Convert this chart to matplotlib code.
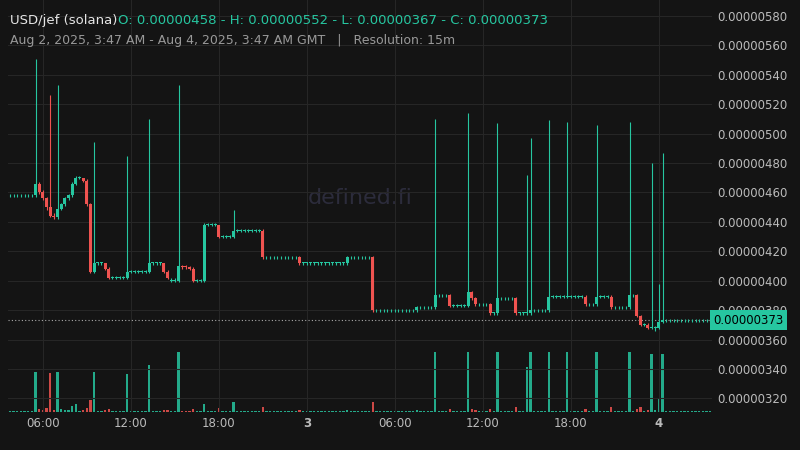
import matplotlib
matplotlib.use("Agg")
import matplotlib.pyplot as plt
from matplotlib.ticker import FuncFormatter

# runs of candles: (count, open, high, low, close, volume)  prices in 1e-8 USD
runs = [
 (7,458,459,457,458,1),
 (1,458,551,457,466,40),(1,466,467,459,460,3),(1,460,462,455,456,2),(1,456,457,448,450,4),
 (1,450,526,443,444,39),(1,444,446,442,443,2),(1,443,533,442,449,40),(1,449,453,448,452,3),
 (1,452,457,451,456,2),(1,456,459,455,458,2),(1,458,467,457,466,6),(1,466,471,465,470,8),
 (1,470,471,469,470,1),(1,470,470,467,468,2),(1,468,469,451,452,4),(1,452,453,405,406,12),
 (1,406,494,405,412,40),(2,412,413,411,412,1),(1,412,412,407,408,2),(1,408,409,401,402,3),
 (4,402,403,401,402,1),(1,402,485,401,406,38),(5,406,407,405,406,1),(1,406,510,405,412,47),
 (3,412,413,411,412,1),(1,412,412,405,406,2),(1,406,407,401,402,2),(2,400,402,399,400,1),
 (1,400,533,399,410,60),(2,410,411,408,409,1),(1,409,410,407,408,1),(1,408,409,399,400,3),
 (2,400,401,399,400,1),(1,400,439,399,438,8),(3,438,439,437,438,1),(1,438,438,429,430,4),
 (3,430,431,429,430,1),(1,430,448,429,434,10),(7,434,435,433,434,1),(1,434,435,415,416,5),
 (9,416,417,415,416,1),(1,416,417,411,412,2),(12,412,413,411,412,1),(1,412,417,411,416,2),
 (6,416,417,415,416,1),(1,416,417,379,380,10),(11,380,381,379,380,1),(1,380,383,379,382,2),
 (4,382,383,381,382,1),(1,382,510,381,390,60),(3,390,391,389,390,1),(1,390,391,382,383,3),
 (4,383,384,382,383,1),(1,383,514,382,392,60),(1,392,393,387,388,3),(1,388,389,383,384,2),
 (3,384,385,383,384,1),(1,384,385,377,378,3),(1,378,379,377,378,1),(1,378,507,377,388,60),
 (4,388,389,387,388,1),(1,388,389,377,378,5),(2,378,379,377,378,1),(1,378,472,377,378,45),
 (1,378,497,377,380,60),(4,380,381,379,380,1),(1,380,509,379,389,60),(4,389,390,388,389,1),
 (1,389,508,388,389,60),(4,389,390,388,389,1),(1,389,390,383,384,3),(2,384,385,383,384,1),
 (1,384,506,383,389,60),(3,389,390,388,389,1),(1,389,390,381,382,5),(4,382,383,381,382,1),
 (1,382,508,381,390,60),(1,390,391,389,390,1),(1,390,391,375,376,3),(1,376,377,369,370,5),
 (1,370,371,369,370,1),(1,370,371,367,368,2),(1,368,480,367,368,58),(1,368,369,366,368,2),
 (1,368,398,367,372,13),(1,372,487,371,373,58),(13,373,374,372,373,1),
]
tick_pos = [9, 33, 57, 81, 105, 129, 153, 177]
tick_labels = ["06:00", "12:00", "18:00", "3", "06:00", "12:00", "18:00", "4"]

o, h, l, c, v = [], [], [], [], []
for n, a, b, d, e, vol in runs:
    for _ in range(n):
        o.append(a); h.append(b); l.append(d); c.append(e); v.append(vol)

GREEN, RED, BG = "#26c6a0", "#ef5350", "#141414"
fig = plt.figure(figsize=(8, 4.5), dpi=100, facecolor=BG)
ax = fig.add_axes([0.01, 0.0844, 0.88, 0.9156], facecolor=BG)
axv = ax.twinx()
axv.set_zorder(0); ax.set_zorder(1); ax.patch.set_visible(False)
axv.set_facecolor(BG)
for i in range(len(o)):
    col = GREEN if c[i] >= o[i] else RED
    ax.vlines(i, l[i]*1e-8, h[i]*1e-8, color=col, lw=0.8, zorder=3)
    lo, hi = min(o[i], c[i]), max(o[i], c[i])
    ax.bar(i, max(hi-lo, 0.4)*1e-8, bottom=lo*1e-8, width=0.9, color=col, zorder=3)
    axv.bar(i, v[i], width=0.6, color=col, alpha=0.85)
axv.set_ylim(0, 412)
axv.set_yticks([])
ax.set_xlim(-0.5, len(o)-0.5)
ax.set_ylim(310.7e-8, 590.9e-8)
ax.set_yticks([y*1e-8 for y in range(320, 581, 20)])
ax.yaxis.tick_right()
ax.yaxis.set_major_formatter(FuncFormatter(lambda y, p: f"{y:.8f}"))
ax.set_xticks(tick_pos)
ax.set_xticklabels(tick_labels)
for t in ax.get_xticklabels():
    if t.get_text() in ("3", "4"):
        t.set_fontweight("bold")
ax.tick_params(colors="#bbbbbb", labelsize=8.5, length=0)
ax.grid(True, color="#262626", lw=0.8)
for s in list(ax.spines.values()) + list(axv.spines.values()):
    s.set_visible(False)
ax.axhline(310.9e-8, color="#888", lw=0.8, ls=":")
ax.axhline(373e-8, color="#aaaaaa", lw=0.8, ls=(0, (1, 2)))
ax.text(1.002, 373e-8, "0.00000373", transform=ax.get_yaxis_transform(), va="center", ha="left",
        fontsize=8.5, color="black", bbox=dict(boxstyle="square,pad=0.3", fc=GREEN, ec="none"), zorder=5)
ax.text(0.5, 0.52, "defined.fi", transform=ax.transAxes, ha="center", va="center", fontsize=16, color="#2c2c3c", zorder=0)
fig.text(0.012, 0.955, "USD/jef (solana)", color="#e6e6e6", fontsize=9.5, va="center")
fig.text(0.147, 0.955, "O: 0.00000458 - H: 0.00000552 - L: 0.00000367 - C: 0.00000373", color=GREEN, fontsize=9.5, va="center")
fig.text(0.012, 0.91, "Aug 2, 2025, 3:47 AM - Aug 4, 2025, 3:47 AM GMT   |   Resolution: 15m", color="#999999", fontsize=9, va="center")
fig.savefig("out.png", dpi=100, facecolor=BG)
